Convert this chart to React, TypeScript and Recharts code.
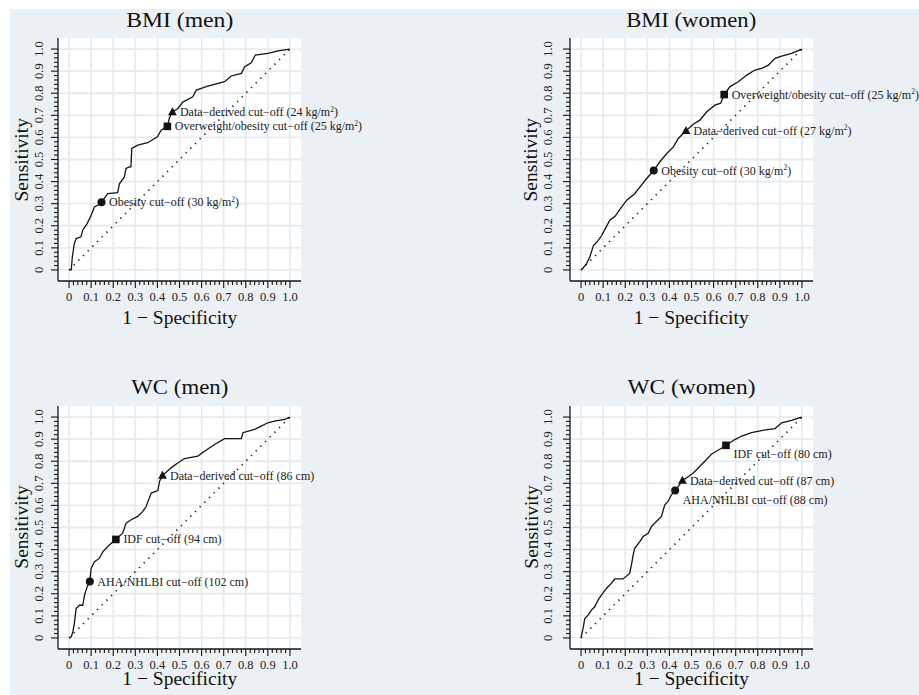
import React from "react";
import { ComposedChart, Line, Scatter, XAxis, YAxis, CartesianGrid } from "recharts";

// ---------- tick values & labels ----------
const MAJOR_TICKS = [0, 0.1, 0.2, 0.3, 0.4, 0.5, 0.6, 0.7, 0.8, 0.9, 1.0];
const TICK_LABELS = ["0", "0.1", "0.2", "0.3", "0.4", "0.5", "0.6", "0.7", "0.8", "0.9", "1.0"];
const MINOR_STEPS = [0.02, 0.04, 0.06, 0.08];

// ---------- chart texts ----------
const TITLES = ["BMI (men)", "BMI (women)", "WC (men)", "WC (women)"];
const X_LABEL = "1 − Specificity";
const Y_LABEL = "Sensitivity";

// ---------- reference diagonal ----------
const DIAG_X = [0, 1];
const DIAG_Y = [0, 1];

// ---------- ROC curves (1 - specificity, sensitivity) ----------
const BMI_MEN_FPR = [0, 0.01, 0.015, 0.024, 0.032, 0.054, 0.062, 0.082, 0.1, 0.115, 0.135, 0.147, 0.175, 0.22, 0.228, 0.25, 0.258, 0.273, 0.28, 0.284, 0.311, 0.356, 0.4, 0.417, 0.445, 0.455, 0.468, 0.492, 0.515, 0.56, 0.576, 0.628, 0.704, 0.734, 0.78, 0.795, 0.825, 0.843, 0.9, 0.946, 1];
const BMI_MEN_TPR = [0, 0, 0.06, 0.12, 0.142, 0.15, 0.18, 0.21, 0.248, 0.285, 0.296, 0.306, 0.346, 0.35, 0.39, 0.42, 0.46, 0.467, 0.467, 0.55, 0.565, 0.576, 0.603, 0.633, 0.65, 0.69, 0.715, 0.73, 0.76, 0.784, 0.814, 0.832, 0.852, 0.878, 0.89, 0.92, 0.938, 0.973, 0.98, 0.992, 1];

const BMI_WOMEN_FPR = [0, 0.01, 0.026, 0.04, 0.056, 0.078, 0.094, 0.11, 0.13, 0.154, 0.184, 0.207, 0.244, 0.267, 0.297, 0.329, 0.357, 0.388, 0.418, 0.44, 0.475, 0.508, 0.538, 0.569, 0.606, 0.632, 0.648, 0.674, 0.712, 0.75, 0.787, 0.817, 0.848, 0.878, 0.908, 0.953, 1];
const BMI_WOMEN_TPR = [0, 0.01, 0.03, 0.06, 0.11, 0.134, 0.157, 0.187, 0.225, 0.243, 0.285, 0.316, 0.346, 0.376, 0.414, 0.45, 0.49, 0.527, 0.557, 0.595, 0.63, 0.66, 0.678, 0.716, 0.746, 0.755, 0.793, 0.83, 0.852, 0.882, 0.905, 0.912, 0.927, 0.958, 0.968, 0.98, 1];

const WC_MEN_FPR = [0, 0.01, 0.017, 0.024, 0.032, 0.047, 0.062, 0.07, 0.082, 0.094, 0.1, 0.115, 0.137, 0.153, 0.175, 0.212, 0.243, 0.258, 0.281, 0.311, 0.334, 0.349, 0.372, 0.402, 0.41, 0.423, 0.462, 0.492, 0.523, 0.583, 0.613, 0.659, 0.704, 0.78, 0.787, 0.84, 0.87, 0.9, 0.93, 0.976, 1];
const WC_MEN_TPR = [0, 0.005, 0.027, 0.065, 0.133, 0.148, 0.148, 0.194, 0.232, 0.255, 0.315, 0.345, 0.36, 0.39, 0.414, 0.447, 0.474, 0.52, 0.535, 0.55, 0.573, 0.595, 0.656, 0.667, 0.71, 0.735, 0.77, 0.792, 0.812, 0.823, 0.845, 0.876, 0.902, 0.902, 0.929, 0.944, 0.959, 0.974, 0.982, 0.989, 1];

const WC_WOMEN_FPR = [0, 0.009, 0.017, 0.032, 0.047, 0.062, 0.077, 0.092, 0.115, 0.137, 0.153, 0.19, 0.22, 0.228, 0.236, 0.243, 0.266, 0.281, 0.304, 0.319, 0.341, 0.364, 0.379, 0.394, 0.409, 0.426, 0.459, 0.477, 0.508, 0.538, 0.568, 0.591, 0.613, 0.656, 0.696, 0.727, 0.772, 0.817, 0.878, 0.908, 0.953, 0.991, 1];
const WC_WOMEN_TPR = [0, 0.042, 0.088, 0.103, 0.126, 0.141, 0.171, 0.194, 0.224, 0.247, 0.267, 0.267, 0.292, 0.33, 0.376, 0.406, 0.436, 0.459, 0.474, 0.505, 0.527, 0.55, 0.603, 0.618, 0.648, 0.667, 0.712, 0.724, 0.747, 0.777, 0.808, 0.833, 0.845, 0.871, 0.898, 0.914, 0.929, 0.939, 0.948, 0.974, 0.985, 0.997, 1];

// ---------- cut-off points ----------
const BMI_MEN_CUT_X = [0.147, 0.445, 0.468];
const BMI_MEN_CUT_Y = [0.306, 0.65, 0.715];
const BMI_MEN_CUT_SYMBOL = ["circle", "square", "triangle"];
const BMI_MEN_CUT_LABEL = ["Obesity cut−off (30 kg/m²)", "Overweight/obesity cut−off (25 kg/m²)", "Data−derived cut−off (24 kg/m²)"];

const BMI_WOMEN_CUT_X = [0.329, 0.475, 0.648];
const BMI_WOMEN_CUT_Y = [0.45, 0.63, 0.794];
const BMI_WOMEN_CUT_SYMBOL = ["circle", "triangle", "square"];
const BMI_WOMEN_CUT_LABEL = ["Obesity cut−off (30 kg/m²)", "Data−derived cut−off (27 kg/m²)", "Overweight/obesity cut−off (25 kg/m²)"];

const WC_MEN_CUT_X = [0.094, 0.212, 0.423];
const WC_MEN_CUT_Y = [0.255, 0.446, 0.735];
const WC_MEN_CUT_SYMBOL = ["circle", "square", "triangle"];
const WC_MEN_CUT_LABEL = ["AHA/NHLBI cut−off (102 cm)", "IDF cut−off (94 cm)", "Data−derived cut−off (86 cm)"];

const WC_WOMEN_CUT_X = [0.426, 0.459, 0.656];
const WC_WOMEN_CUT_Y = [0.667, 0.712, 0.872];
const WC_WOMEN_CUT_SYMBOL = ["circle", "triangle", "square"];
const WC_WOMEN_CUT_LABEL = ["AHA/NHLBI cut−off (88 cm)", "Data−derived cut−off (87 cm)", "IDF cut−off (80 cm)"];

// ---------- styling / layout ----------
const FONT = "Liberation Serif, Times New Roman, serif";
const BG = "#EAF0F3";
const GRID = "#E4ECF0";
const INK = "#141414";
const PLOT = 243;
const Y_AXIS_W = 58;
const TOP_M = 38;
const X_AXIS_H = 55;
const CH = TOP_M + PLOT + X_AXIS_H;

const ALL_TICKS: number[] = (() => {
  const out: number[] = [];
  MAJOR_TICKS.forEach((m, i) => {
    out.push(m);
    if (i < MAJOR_TICKS.length - 1) MINOR_STEPS.forEach((s) => out.push(Math.round((m + s) * 100) / 100));
  });
  return out;
})();

const majorIndex = (v: number) => MAJOR_TICKS.findIndex((m) => Math.abs(m - v) < 1e-6);

const zip = (xs: number[], ys: number[]) => xs.map((x, i) => ({ x, y: ys[i] }));

const XTick = (props: any) => {
  const { x, y, payload } = props;
  const mi = majorIndex(payload.value);
  const major = mi >= 0;
  return (
    <g>
      <line x1={x} x2={x} y1={y} y2={y + (major ? 7 : 4)} stroke={INK} strokeWidth={1.1} />
      {major && (
        <text x={x} y={y + 20} textAnchor="middle" fontFamily={FONT} fontSize={12.5} fill="#222">
          {TICK_LABELS[mi]}
        </text>
      )}
    </g>
  );
};

const makeYTick = (off: number) => (props: any) => {
  const { x, y, payload } = props;
  const mi = majorIndex(payload.value);
  const major = mi >= 0;
  const tx = x - off;
  return (
    <g>
      <line x1={x} x2={x - (major ? 7 : 4)} y1={y} y2={y} stroke={INK} strokeWidth={1.1} />
      {major && (
        <text
          x={tx}
          y={y}
          transform={`rotate(-90 ${tx} ${y})`}
          textAnchor="middle"
          dominantBaseline="central"
          fontFamily={FONT}
          fontSize={12.5}
          fill="#222"
        >
          {TICK_LABELS[mi]}
        </text>
      )}
    </g>
  );
};

const LabelText = ({ x, y, text }: { x: number; y: number; text: string }) => {
  const parts = text.split("²");
  return (
    <text x={x} y={y} fontFamily={FONT} fontSize={12} fill="#222">
      {parts.length === 2 ? (
        <>
          <tspan>{parts[0]}</tspan>
          <tspan dy={-4.5} fontSize={7.5}>2</tspan>
          <tspan dy={4.5}>{parts[1]}</tspan>
        </>
      ) : (
        text
      )}
    </text>
  );
};

const makeCutShape = (below: boolean[]) => (props: any) => {
  const { cx, cy } = props;
  const p = props.payload || props;
  const i = p.i;
  let mark: React.ReactNode = null;
  if (p.symbol === "circle") mark = <circle cx={cx} cy={cy} r={4} fill={INK} />;
  else if (p.symbol === "square") mark = <rect x={cx - 3.8} y={cy - 3.8} width={7.6} height={7.6} fill={INK} />;
  else
    mark = (
      <polygon
        points={`${cx},${cy - 4.8} ${cx - 4.4},${cy + 3.2} ${cx + 4.4},${cy + 3.2}`}
        fill={INK}
      />
    );
  const b = below[i];
  return (
    <g>
      {mark}
      <LabelText x={cx + 7.5} y={b ? cy + 13 : cy + 4} text={p.label} />
    </g>
  );
};

type PanelProps = {
  left: number;
  top: number;
  rightPad: number;
  fpr: number[];
  tpr: number[];
  cx: number[];
  cy: number[];
  sym: string[];
  lab: string[];
  below: boolean[];
  yTickOff: number;
};

const Panel = ({ left, top, rightPad, fpr, tpr, cx, cy, sym, lab, below, yTickOff }: PanelProps) => {
  const curve = zip(fpr, tpr);
  const diag = zip(DIAG_X, DIAG_Y);
  const cuts = cx.map((x, i) => ({ x, y: cy[i], symbol: sym[i], label: lab[i], i }));
  const CW = Y_AXIS_W + PLOT + rightPad;
  return (
    <div style={{ position: "absolute", left, top, width: CW, height: CH }}>
      <ComposedChart width={CW} height={CH} margin={{ top: TOP_M, right: rightPad, bottom: 0, left: 0 }}>
        <CartesianGrid
          fill="#ffffff"
          fillOpacity={1}
          stroke={GRID}
          strokeWidth={1.8}
          horizontalValues={MAJOR_TICKS}
          verticalValues={MAJOR_TICKS}
        />
        <XAxis
          type="number"
          dataKey="x"
          domain={[-0.05, 1.05]}
          ticks={ALL_TICKS}
          interval={0}
          tickSize={0}
          tickMargin={0}
          tickLine={false}
          height={X_AXIS_H}
          axisLine={{ stroke: INK, strokeWidth: 1.3 }}
          tick={XTick}
        />
        <YAxis
          type="number"
          dataKey="y"
          domain={[-0.05, 1.05]}
          ticks={ALL_TICKS}
          interval={0}
          tickSize={0}
          tickMargin={0}
          tickLine={false}
          width={Y_AXIS_W}
          axisLine={{ stroke: INK, strokeWidth: 1.3 }}
          tick={makeYTick(yTickOff)}
        />
        <Line
          data={diag}
          dataKey="y"
          type="linear"
          stroke="#222"
          strokeWidth={1.6}
          strokeDasharray="1.4 5.2"
          dot={false}
          activeDot={false}
          isAnimationActive={false}
        />
        <Line
          data={curve}
          dataKey="y"
          type="linear"
          stroke={INK}
          strokeWidth={1.3}
          dot={false}
          activeDot={false}
          isAnimationActive={false}
        />
        <Scatter data={cuts} dataKey="y" shape={makeCutShape(below)} isAnimationActive={false} />
      </ComposedChart>
    </div>
  );
};

const PANEL_LEFT = [0.3, 511.7, 0.3, 512];
const PANEL_TOP = [0.3, 0.3, 367.5, 367.5];
const PANEL_RIGHT_PAD = [240, 106, 240, 106];
const Y_TICK_OFF = [19, 22, 19, 22];
const Y_LABEL_OFF = [35.5, 38, 35.5, 38];
const TITLE_BASE = [27, 27, 393.5, 393.5];
const XLABEL_BASE = [324, 324, 685, 685];
const TITLE_W = [107, 130, 97, 128];

export default function App() {
  const panels = [
    { fpr: BMI_MEN_FPR, tpr: BMI_MEN_TPR, cx: BMI_MEN_CUT_X, cy: BMI_MEN_CUT_Y, sym: BMI_MEN_CUT_SYMBOL, lab: BMI_MEN_CUT_LABEL, below: [false, false, false] },
    { fpr: BMI_WOMEN_FPR, tpr: BMI_WOMEN_TPR, cx: BMI_WOMEN_CUT_X, cy: BMI_WOMEN_CUT_Y, sym: BMI_WOMEN_CUT_SYMBOL, lab: BMI_WOMEN_CUT_LABEL, below: [false, false, false] },
    { fpr: WC_MEN_FPR, tpr: WC_MEN_TPR, cx: WC_MEN_CUT_X, cy: WC_MEN_CUT_Y, sym: WC_MEN_CUT_SYMBOL, lab: WC_MEN_CUT_LABEL, below: [false, false, false] },
    { fpr: WC_WOMEN_FPR, tpr: WC_WOMEN_TPR, cx: WC_WOMEN_CUT_X, cy: WC_WOMEN_CUT_Y, sym: WC_WOMEN_CUT_SYMBOL, lab: WC_WOMEN_CUT_LABEL, below: [true, false, true] },
  ];
  return (
    <div style={{ position: "absolute", left: 0, top: 0, width: 919, height: 695, background: "#ffffff", overflow: "hidden" }}>
      <div style={{ position: "absolute", left: 10, top: 9, width: 909, height: 686, background: BG }} />
      {panels.map((p, k) => (
        <Panel
          key={k}
          left={PANEL_LEFT[k]}
          top={PANEL_TOP[k]}
          rightPad={PANEL_RIGHT_PAD[k]}
          yTickOff={Y_TICK_OFF[k]}
          {...p}
        />
      ))}
      <svg width={919} height={695} style={{ position: "absolute", left: 0, top: 0, pointerEvents: "none" }}>
        {TITLES.map((t, k) => {
          const plotL = PANEL_LEFT[k] + Y_AXIS_W;
          const plotT = PANEL_TOP[k] + TOP_M;
          const cxp = plotL + PLOT / 2;
          const cyp = plotT + PLOT / 2;
          const axisX = plotL - 1;
          const ylx = axisX - Y_LABEL_OFF[k];
          return (
            <g key={k}>
              <text
                x={cxp}
                y={TITLE_BASE[k]}
                textAnchor="middle"
                fontFamily={FONT}
                fontSize={21}
                fill="#111"
                textLength={TITLE_W[k]}
                lengthAdjust="spacingAndGlyphs"
              >
                {t}
              </text>
              <text x={cxp} y={XLABEL_BASE[k]} textAnchor="middle" fontFamily={FONT} fontSize={19.5} fill="#111">
                {X_LABEL}
              </text>
              <text
                x={ylx}
                y={cyp}
                transform={`rotate(-90 ${ylx} ${cyp})`}
                textAnchor="middle"
                dominantBaseline="central"
                fontFamily={FONT}
                fontSize={19.5}
                fill="#111"
              >
                {Y_LABEL}
              </text>
            </g>
          );
        })}
      </svg>
    </div>
  );
}
